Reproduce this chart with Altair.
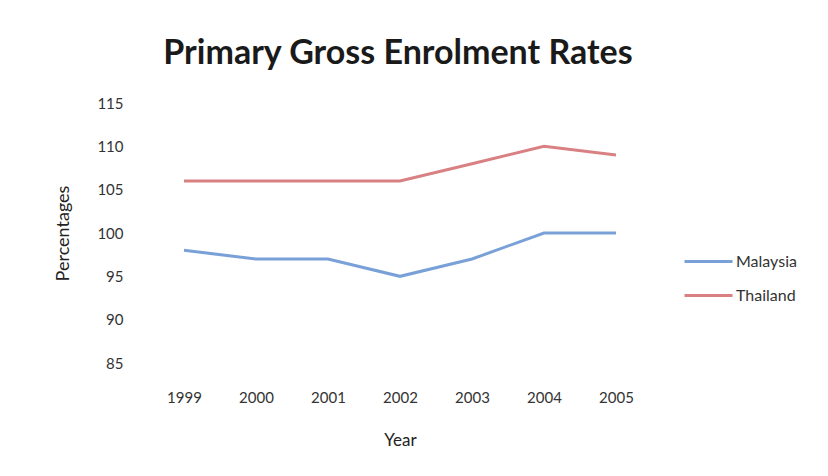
import altair as alt
import pandas as pd

years = ["1999", "2000", "2001", "2002", "2003", "2004", "2005"]
malaysia = [98, 97, 97, 95, 97, 100, 100]
thailand = [106, 106, 106, 106, 108, 110, 109]
series = ["Malaysia", "Thailand"]
colors = ["#7aa0d8", "#d98083"]

rows = []
for name, vals in zip(series, [malaysia, thailand]):
    for y, v in zip(years, vals):
        rows.append({"Year": y, "Country": name, "Value": v})
df = pd.DataFrame(rows)

FONT = "Lato"

chart = alt.Chart(df).mark_line(strokeWidth=3).encode(
    x=alt.X("Year:O", sort=years, title="Year",
            axis=alt.Axis(labelAngle=0, domain=False, ticks=False, grid=False,
                          labelPadding=27, titlePadding=27,
                          labelFontSize=15, titleFontSize=17, titleFontWeight="normal",
                          labelColor="#333333", titleColor="#222222",
                          labelFont=FONT, titleFont=FONT)),
    y=alt.Y("Value:Q", title="Percentages",
            scale=alt.Scale(domain=[85, 115], nice=False, zero=False),
            axis=alt.Axis(values=list(range(85, 116, 5)), domain=False, ticks=False, grid=False,
                          labelPadding=25, titlePadding=24,
                          labelFontSize=15, titleFontSize=18, titleFontWeight="normal",
                          labelColor="#333333", titleColor="#222222",
                          labelFont=FONT, titleFont=FONT)),
    color=alt.Color("Country:N", sort=series,
                    scale=alt.Scale(domain=series, range=colors),
                    legend=alt.Legend(title=None, orient="none", legendX=535, legendY=133,
                                      symbolType="stroke", symbolSize=2304, symbolStrokeWidth=3,
                                      labelFontSize=16, labelFont=FONT, labelColor="#333333",
                                      labelOffset=2, rowPadding=-11)),
).properties(
    width=504,
    height=260,
    title=alt.TitleParams("Primary Gross Enrolment Rates", fontSize=34, font=FONT,
                          fontWeight="bold", color="#1a1a1a", anchor="middle", offset=25, dx=-2),
    padding={"left": 148, "top": 103, "right": 176, "bottom": 113},
    autosize=alt.AutoSizeParams(type="none"),
).configure(background="white").configure_view(strokeWidth=0, stroke="transparent")

chart.save("out.html", embed_options={"renderer": "svg", "actions": False})
